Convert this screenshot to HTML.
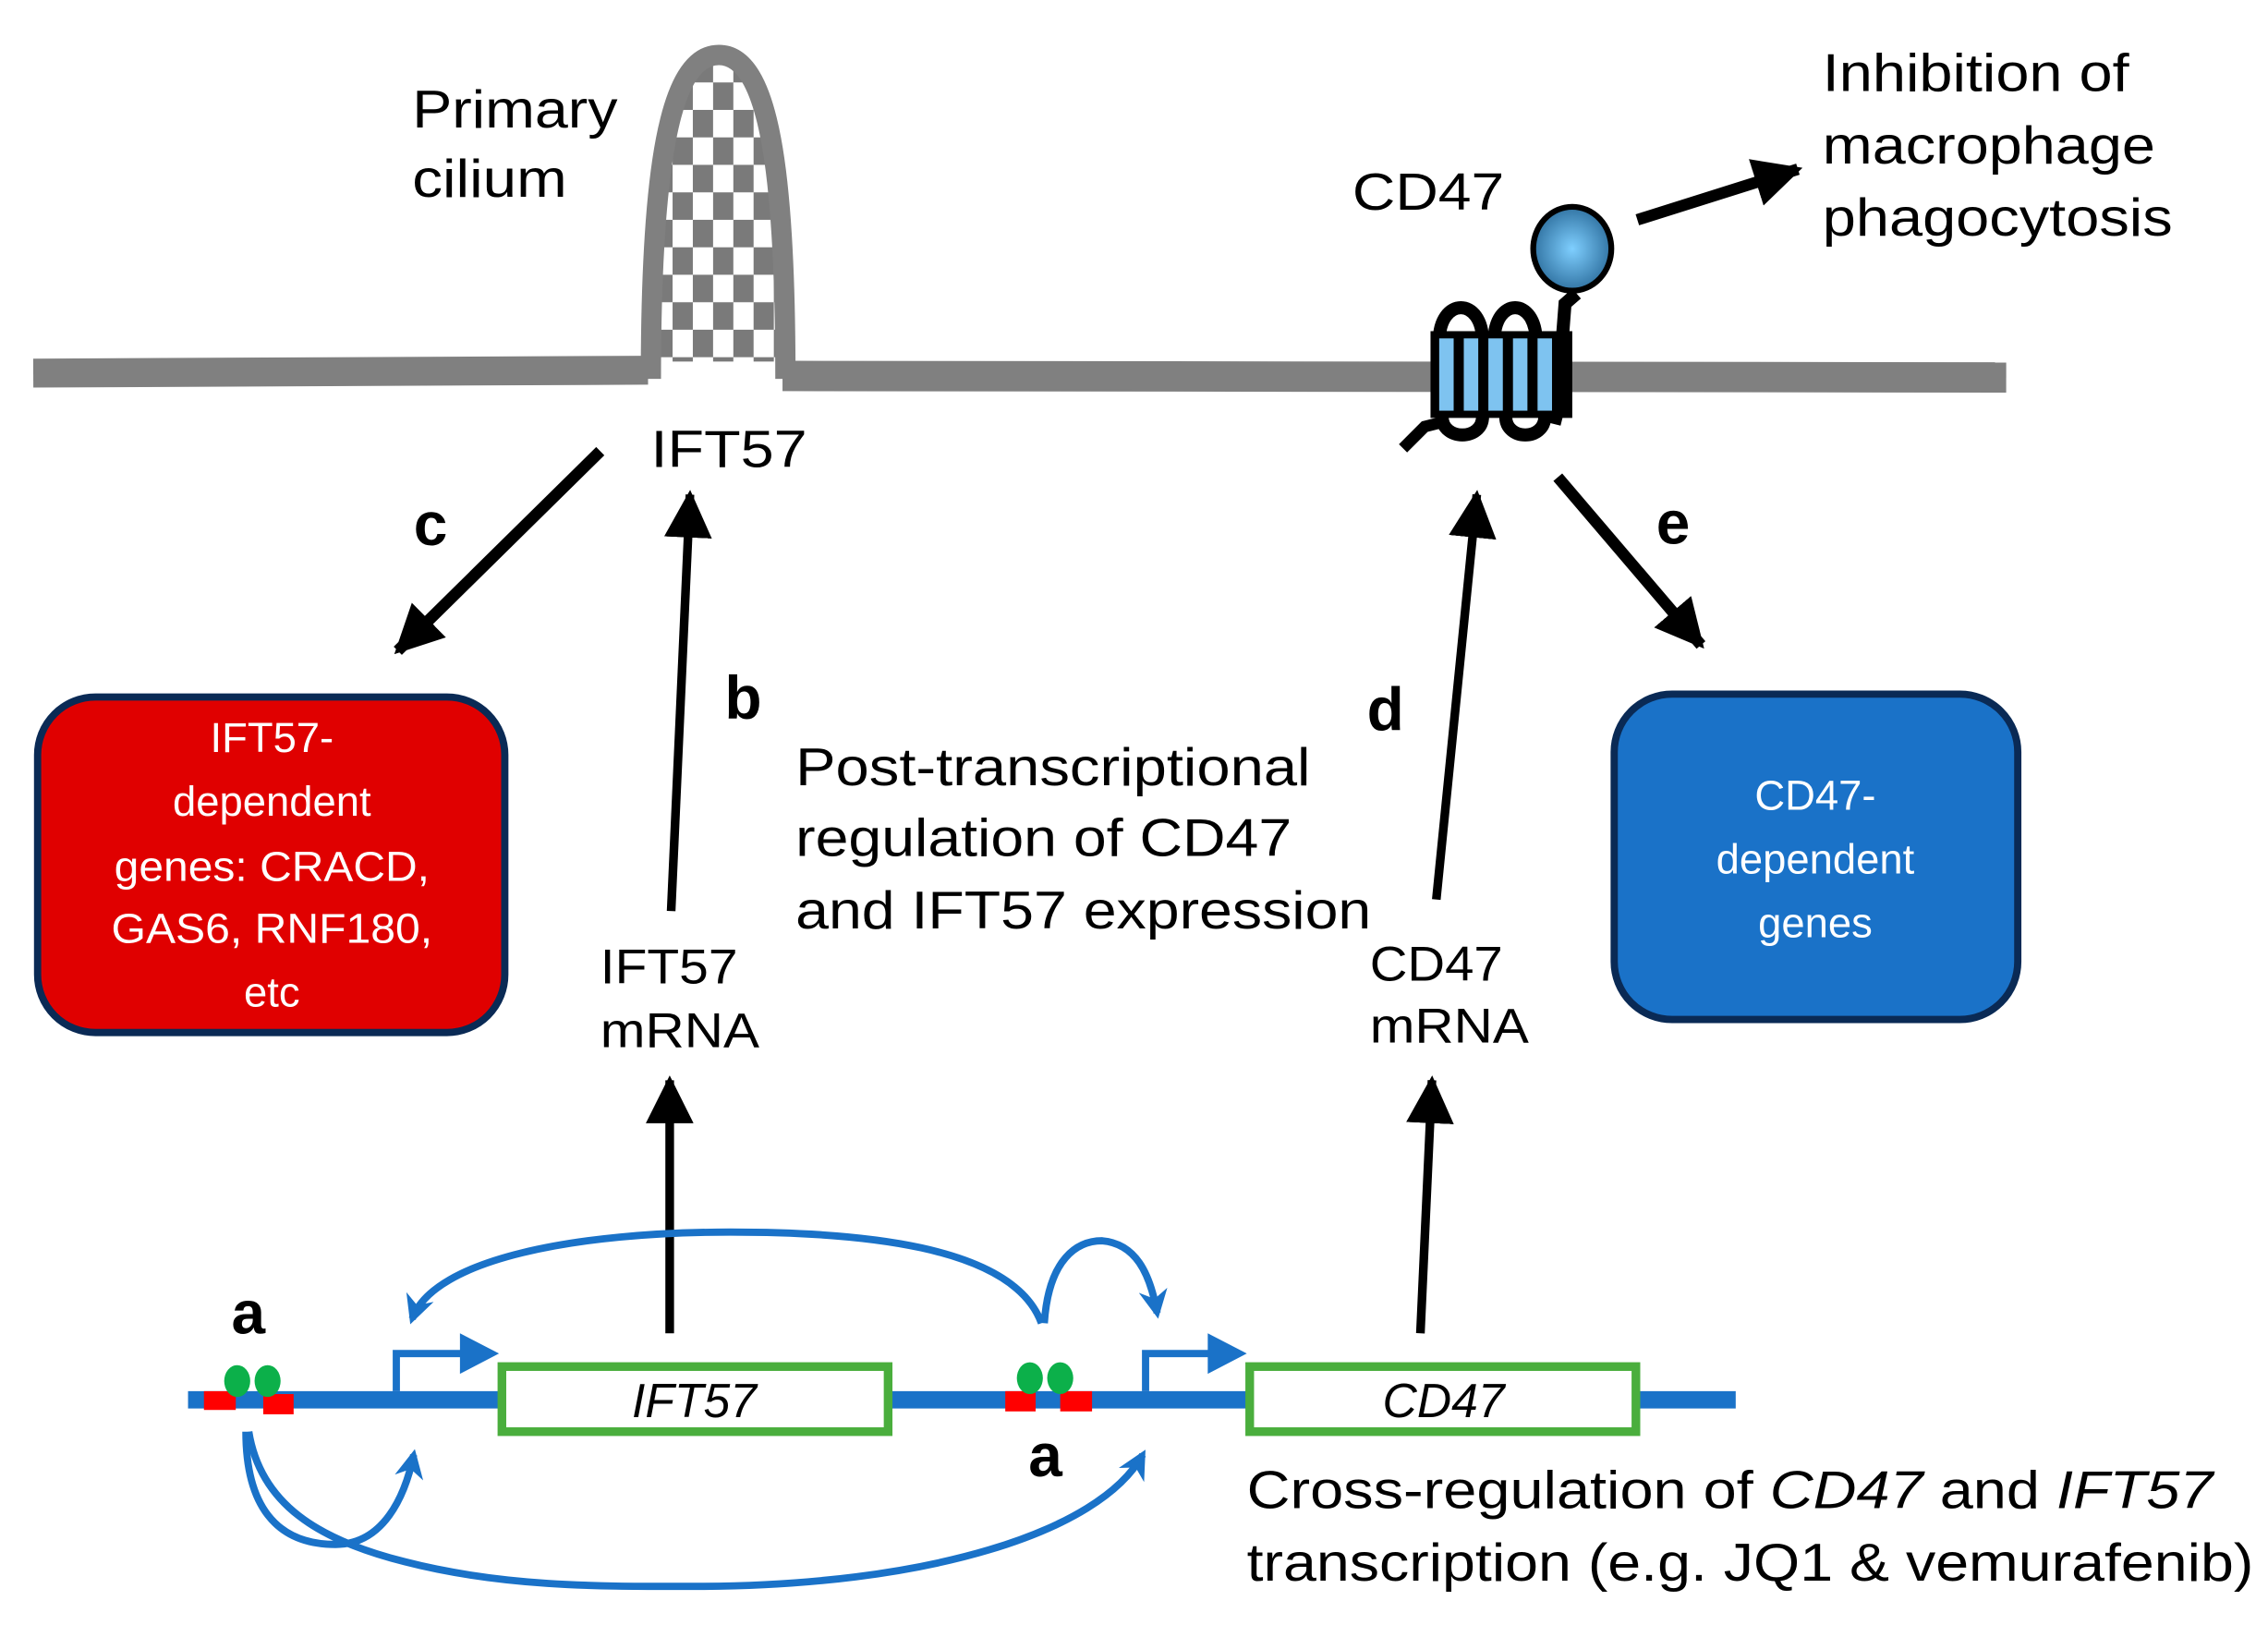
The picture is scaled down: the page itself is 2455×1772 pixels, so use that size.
<!DOCTYPE html>
<html><head><meta charset="utf-8"><style>
html,body{margin:0;padding:0;background:#fff;}
svg{display:block;}
text{font-family:"Liberation Sans",Arial,sans-serif;}
</style></head><body>
<svg width="2455" height="1772" viewBox="0 0 1568 1132" preserveAspectRatio="none" xmlns="http://www.w3.org/2000/svg">
<defs>
<pattern id="chk" width="28" height="38" patternUnits="userSpaceOnUse" x="451">
<rect width="28" height="38" fill="#fff"/>
<rect width="14" height="19" fill="#7a7a7a"/><rect x="14" y="19" width="14" height="19" fill="#7a7a7a"/>
</pattern>
<radialGradient id="ball" cx="0.5" cy="0.5" r="0.55"><stop offset="0" stop-color="#7fcfff"/><stop offset="1" stop-color="#2a6b9a"/></radialGradient>
<marker id="ah" viewBox="0 0 10 10" refX="9" refY="5" markerWidth="4.2" markerHeight="4.2" orient="auto"><path d="M0,0 L10,5 L0,10 z" fill="#000"/></marker>
<marker id="ah2" viewBox="0 0 10 10" refX="9" refY="5" markerWidth="5.5" markerHeight="5.5" orient="auto"><path d="M0,0 L10,5 L0,10 z" fill="#000"/></marker>
<marker id="bh" viewBox="0 0 10 10" refX="8" refY="5" markerWidth="4" markerHeight="4" orient="auto"><path d="M0,0 L10,5 L0,10 L3,5 z" fill="#1a72c8"/></marker>
</defs>
<path d="M23,258 L448,256" stroke="#808080" stroke-width="20" fill="none"/>
<path d="M541,260 L1387,261" stroke="#808080" stroke-width="21" fill="none"/>
<path d="M450,250 C450,120 462,38 497,36 C532,38 543,120 543,250 Z" fill="url(#chk)"/>
<path d="M450,262 C450,120 462,38 497,38 C532,38 543,120 543,262" stroke="#808080" stroke-width="14" fill="none"/>
<text x="285" y="88" font-size="37" textLength="142" lengthAdjust="spacingAndGlyphs">Primary</text>
<text x="285" y="136" font-size="37" textLength="107" lengthAdjust="spacingAndGlyphs">cilium</text>
<text x="450" y="323" font-size="36" textLength="108" lengthAdjust="spacingAndGlyphs">IFT57</text>
<line x1="415" y1="312" x2="275" y2="450" stroke="#000" stroke-width="8" marker-end="url(#ah)"/>
<text x="286" y="377" font-size="42" font-weight="bold">c</text>
<line x1="464" y1="630" x2="477" y2="342" stroke="#000" stroke-width="6" marker-end="url(#ah2)"/>
<text x="501" y="497" font-size="42" font-weight="bold">b</text>
<rect x="26" y="482" width="323" height="232" rx="40" fill="#e00000" stroke="#0a2a55" stroke-width="5"/>
<g fill="#fff" font-size="29" text-anchor="middle">
<text x="188" y="520">IFT57-</text>
<text x="188" y="564">dependent</text>
<text x="188" y="609" textLength="218" lengthAdjust="spacingAndGlyphs">genes: CRACD,</text>
<text x="188" y="652" textLength="222" lengthAdjust="spacingAndGlyphs">GAS6, RNF180,</text>
<text x="188" y="696">etc</text>
</g>
<text x="550" y="543" font-size="37" textLength="356" lengthAdjust="spacingAndGlyphs">Post-transcriptional</text>
<text x="550" y="592" font-size="37" textLength="343" lengthAdjust="spacingAndGlyphs">regulation of CD47</text>
<text x="550" y="642" font-size="37" textLength="398" lengthAdjust="spacingAndGlyphs">and IFT57 expression</text>
<text x="415" y="680" font-size="34" textLength="95" lengthAdjust="spacingAndGlyphs">IFT57</text>
<text x="415" y="724" font-size="34" textLength="110" lengthAdjust="spacingAndGlyphs">mRNA</text>
<text x="947" y="678" font-size="34" textLength="92" lengthAdjust="spacingAndGlyphs">CD47</text>
<text x="947" y="721" font-size="34" textLength="110" lengthAdjust="spacingAndGlyphs">mRNA</text>
<line x1="993" y1="622" x2="1021" y2="342" stroke="#000" stroke-width="6" marker-end="url(#ah2)"/>
<text x="945" y="505" font-size="42" font-weight="bold">d</text>
<text x="935" y="145" font-size="36" textLength="105" lengthAdjust="spacingAndGlyphs">CD47</text>
<path d="M970,310 L985,295 L997,292" stroke="#000" stroke-width="8" fill="none"/>
<path d="M995,236 C995,205 1025,205 1025,236 M1033,236 C1033,205 1062,205 1062,236 M1080,236 L1082,210 L1090,203" stroke="#000" stroke-width="9" fill="none"/>
<path d="M997,288 C997,305 1025,305 1025,288 M1041,288 C1041,305 1068,305 1068,288 M1072,288 L1080,290" stroke="#000" stroke-width="9" fill="none"/>
<rect x="989" y="229" width="98" height="60" fill="#000"/>
<g fill="#7ec3f0"><rect x="995" y="234" width="10" height="50"/><rect x="1012" y="234" width="10" height="50"/><rect x="1029" y="234" width="10" height="50"/><rect x="1046" y="234" width="10" height="50"/><rect x="1063" y="234" width="10" height="50"/></g>
<ellipse cx="1087" cy="172" rx="27" ry="29" fill="url(#ball)" stroke="#000" stroke-width="4"/>
<line x1="1132" y1="152" x2="1243" y2="117" stroke="#000" stroke-width="8" marker-end="url(#ah)"/>
<text x="1260" y="63" font-size="37" textLength="212" lengthAdjust="spacingAndGlyphs">Inhibition of</text>
<text x="1260" y="113" font-size="37" textLength="230" lengthAdjust="spacingAndGlyphs">macrophage</text>
<text x="1260" y="163" font-size="37" textLength="242" lengthAdjust="spacingAndGlyphs">phagocytosis</text>
<line x1="1077" y1="330" x2="1176" y2="446" stroke="#000" stroke-width="8" marker-end="url(#ah)"/>
<text x="1145" y="376" font-size="42" font-weight="bold">e</text>
<rect x="1116" y="480" width="279" height="225" rx="40" fill="#1a72c8" stroke="#0a2a55" stroke-width="5"/>
<g fill="#fff" font-size="29" text-anchor="middle">
<text x="1255" y="560">CD47-</text>
<text x="1255" y="604">dependent</text>
<text x="1255" y="648">genes</text>
</g>
<line x1="463" y1="922" x2="463" y2="747" stroke="#000" stroke-width="6" marker-end="url(#ah2)"/>
<line x1="982" y1="922" x2="990" y2="747" stroke="#000" stroke-width="6" marker-end="url(#ah2)"/>
<line x1="130" y1="968" x2="1200" y2="968" stroke="#1a72c8" stroke-width="12"/>
<rect x="347" y="945" width="267" height="45" fill="#fff" stroke="#4aae3d" stroke-width="6"/>
<rect x="864" y="945" width="267" height="45" fill="#fff" stroke="#4aae3d" stroke-width="6"/>
<text x="480" y="980" font-size="33" font-style="italic" text-anchor="middle">IFT57</text>
<text x="998" y="980" font-size="33" font-style="italic" text-anchor="middle">CD47</text>
<g fill="#f00"><rect x="141" y="962" width="22" height="13"/><rect x="182" y="964" width="21" height="14"/><rect x="695" y="962" width="21" height="14"/><rect x="733" y="962" width="22" height="14"/></g>
<g fill="#0cb04a"><ellipse cx="164" cy="955" rx="9" ry="11"/><ellipse cx="185" cy="955" rx="9" ry="11"/><ellipse cx="712" cy="953" rx="9" ry="11"/><ellipse cx="733" cy="953" rx="9" ry="11"/></g>
<path d="M274,962 L274,936 L322,936" stroke="#1a72c8" stroke-width="5" fill="none"/>
<path d="M318,922 L345,936 L318,950 z" fill="#1a72c8"/>
<path d="M792,962 L792,936 L838,936" stroke="#1a72c8" stroke-width="5" fill="none"/>
<path d="M835,922 L862,936 L835,950 z" fill="#1a72c8"/>
<g stroke="#1a72c8" stroke-width="5" fill="none">
<path d="M720,915 C700,860 590,852 505,852 C400,852 300,870 285,912" marker-end="url(#bh)"/>
<path d="M722,915 C725,870 745,858 762,858 C785,860 795,880 800,908" marker-end="url(#bh)"/>
<path d="M170,990 C170,1040 190,1068 232,1068 C265,1068 280,1035 286,1006" marker-end="url(#bh)"/>
<path d="M172,990 C180,1040 220,1065 280,1080 C350,1098 420,1097 480,1097 C640,1097 760,1060 790,1006" marker-end="url(#bh)"/>
</g>
<text x="160" y="922" font-size="42" font-weight="bold">a</text>
<text x="711" y="1021" font-size="42" font-weight="bold">a</text>
<text x="862" y="1043" font-size="37" textLength="668" lengthAdjust="spacingAndGlyphs">Cross-regulation of <tspan font-style="italic">CD47</tspan> and <tspan font-style="italic">IFT57</tspan></text>
<text x="862" y="1093" font-size="37" textLength="696" lengthAdjust="spacingAndGlyphs">transcription (e.g. JQ1 &amp; vemurafenib)</text>
</svg>
</body></html>
